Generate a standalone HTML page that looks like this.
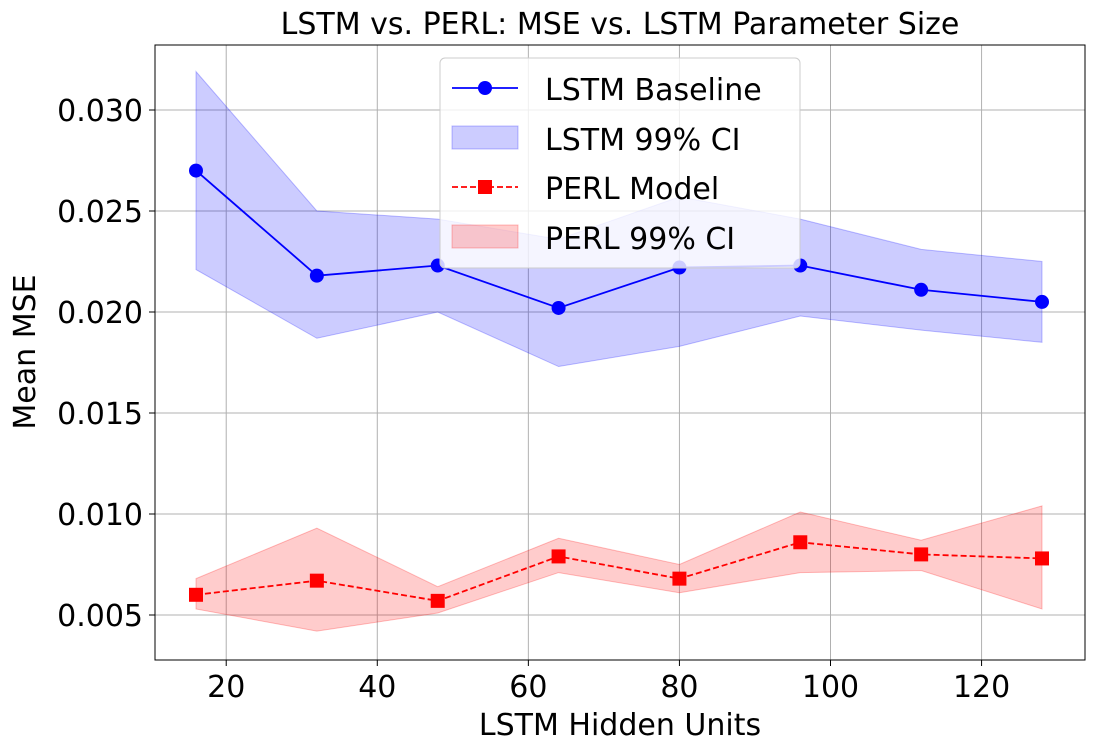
<!DOCTYPE html>
<html><head><meta charset="utf-8"><style>
body{margin:0;background:#fff;}
svg{display:block;font-family:"DejaVu Sans","Liberation Sans",sans-serif;}
</style></head><body>
<svg id="chart" width="1094" height="751"></svg>
<script>
const xs=[16,32,48,64,80,96,112,128];
const lstmMean=[0.0270,0.0218,0.0223,0.0202,0.0222,0.0223,0.0211,0.0205];
const lstmUpper=[0.0319,0.0250,0.0246,0.0236,0.0257,0.0246,0.0231,0.0225];
const lstmLower=[0.0221,0.0187,0.0200,0.0173,0.0183,0.0198,0.0191,0.0185];
const perlMean=[0.0060,0.0067,0.0057,0.0079,0.0068,0.0086,0.0080,0.0078];
const perlUpper=[0.0068,0.0093,0.0064,0.0088,0.0075,0.0101,0.0087,0.0104];
const perlLower=[0.0053,0.0042,0.0051,0.0071,0.0061,0.0071,0.0072,0.0053];
const xTicks=[20,40,60,80,100,120];
const yTicks=[0.005,0.010,0.015,0.020,0.025,0.030];

const L=155,R=1085,T=45,B=660;
const X=v=>196+(v-16)*(846/112);
const Y=v=>615-(v-0.005)*(101/0.005);
const NS="http://www.w3.org/2000/svg";
const svg=document.getElementById('chart');
function mk(tag,attrs,parent){const e=document.createElementNS(NS,tag);for(const k in attrs)e.setAttribute(k,attrs[k]);(parent||svg).appendChild(e);return e;}

xTicks.forEach(t=>{const g=mk('line',{x1:X(t),x2:X(t),y1:T,y2:B,stroke:'#b0b0b0','stroke-width':1});

});
yTicks.forEach(t=>{const g=mk('line',{x1:L,x2:R,y1:Y(t),y2:Y(t),stroke:'#b0b0b0','stroke-width':1});

});

function band(up,lo,fill,stroke,name){
 let d='M'+xs.map((x,i)=>X(x)+','+Y(up[i])).join('L');
 d+='L'+xs.slice().reverse().map((x,j)=>{const i=xs.length-1-j;return X(x)+','+Y(lo[i]);}).join('L')+'Z';
 const p=mk('path',{d:d,fill:fill,stroke:stroke,'stroke-width':1});
 
 
}
band(lstmUpper,lstmLower,'rgba(0,0,255,0.2)','rgba(0,0,255,0.25)','lstm-ci-band');
band(perlUpper,perlLower,'rgba(255,0,0,0.2)','rgba(255,0,0,0.25)','perl-ci-band');

const l1=mk('polyline',{points:xs.map((x,i)=>X(x)+','+Y(lstmMean[i])).join(' '),fill:'none',stroke:'#0000ff','stroke-width':1.8});


xs.forEach((x,i)=>{const c=mk('circle',{cx:X(x),cy:Y(lstmMean[i]),r:7,fill:'#0000ff'});

});
const l2=mk('polyline',{points:xs.map((x,i)=>X(x)+','+Y(perlMean[i])).join(' '),fill:'none',stroke:'#ff0000','stroke-width':1.8,'stroke-dasharray':'6,3'});


xs.forEach((x,i)=>{const s=mk('rect',{x:X(x)-7,y:Y(perlMean[i])-7,width:14,height:14,fill:'#ff0000'});

});

const fr=mk('rect',{x:L,y:T,width:R-L,height:B-T,fill:'none',stroke:'#000','stroke-width':1});



xTicks.forEach(t=>{mk('line',{x1:X(t),x2:X(t),y1:B,y2:B+6,stroke:'#000'});
const tx=mk('text',{x:X(t),y:B+37,'text-anchor':'middle','font-size':30});tx.textContent=t;

});
yTicks.forEach(t=>{mk('line',{x1:L-6,x2:L,y1:Y(t),y2:Y(t),stroke:'#000'});
const tx=mk('text',{x:L-12,y:Y(t)+11,'text-anchor':'end','font-size':30});tx.textContent=t.toFixed(3);

});

const tt=mk('text',{x:(L+R)/2+0,y:34,'text-anchor':'middle','font-size':30});tt.textContent='LSTM vs. PERL: MSE vs. LSTM Parameter Size';


const xt=mk('text',{x:(L+R)/2,y:735,'text-anchor':'middle','font-size':30});xt.textContent='LSTM Hidden Units';


const yt=mk('text',{x:0,y:0,'text-anchor':'middle','font-size':30,transform:'translate(35,352) rotate(-90)'});yt.textContent='Mean MSE';



const lg=mk('g',{});


mk('rect',{x:440,y:58,width:360,height:210,rx:5,fill:'rgba(255,255,255,0.8)',stroke:'#ccc'},lg);
mk('line',{x1:452,x2:518,y1:88,y2:88,stroke:'#0000ff','stroke-width':1.8},lg);
mk('circle',{cx:485,cy:88,r:7,fill:'#0000ff'},lg);
mk('rect',{x:452,y:126,width:66,height:23,fill:'rgba(0,0,255,0.2)',stroke:'rgba(0,0,255,0.25)'},lg);
mk('line',{x1:452,x2:518,y1:187,y2:187,stroke:'#ff0000','stroke-width':1.8,'stroke-dasharray':'6,3'},lg);
mk('rect',{x:478,y:180,width:14,height:14,fill:'#ff0000'},lg);
mk('rect',{x:452,y:225,width:66,height:23,fill:'rgba(255,0,0,0.2)',stroke:'rgba(255,0,0,0.25)'},lg);
[['LSTM Baseline',98],['LSTM 99% CI',148],['PERL Model',197],['PERL 99% CI',247]].forEach(([s,y])=>{
 const t=mk('text',{x:545,y:y+2,'font-size':30},lg);t.textContent=s;
 
 });
</script>
</body></html>
